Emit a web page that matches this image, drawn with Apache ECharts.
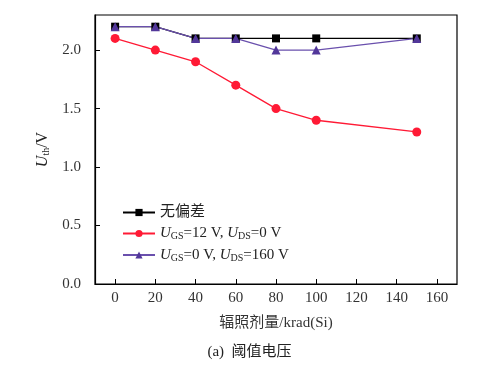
<!DOCTYPE html>
<html>
<head>
<meta charset="utf-8">
<script src="https://cdn.jsdelivr.net/npm/echarts@6/dist/echarts.min.js"></script>
<style>html,body{margin:0;padding:0;background:#fff;}#c{width:499px;height:368px;}</style>
</head>
<body>
<div id="c"></div>
<script>
var doses = [0, 20, 40, 60, 80, 100, 150];
var noBias = [2.2, 2.2, 2.1, 2.1, 2.1, 2.1, 2.1];
var gsBias = [2.1, 2.0, 1.9, 1.7, 1.5, 1.4, 1.3];
var dsBias = [2.2, 2.2, 2.1, 2.1, 2.0, 2.0, 2.1];
var xTicks = [0, 20, 40, 60, 80, 100, 120, 140, 160];
var yTicks = [0, 0.5, 1.0, 1.5, 2.0];
var seriesNames = ['无偏差', 'UGS=12 V, UDS=0 V', 'UGS=0 V, UDS=160 V'];

function pairs(vals) { return doses.map(function (d, i) { return [d, vals[i]]; }); }

var FONT = '"Liberation Serif", "Noto Sans CJK SC", serif';
var chart = echarts.init(document.getElementById('c'));
var richLeg = {
  n: { fontFamily: FONT, fontSize: 15, color: '#222' },
  i: { fontFamily: FONT, fontSize: 15, fontStyle: 'italic', color: '#222' },
  s: { fontFamily: FONT, fontSize: 10, color: '#222', verticalAlign: 'bottom', padding: [6, 0, 0, 0] }
};
chart.setOption({
  animation: false,
  backgroundColor: '#fff',
  grid: { left: 95, right: 42, top: 15, bottom: 84, show: true, borderColor: '#000', borderWidth: 1.2 },
  legend: {
    orient: 'vertical', left: 117, top: 200, itemWidth: 32, itemHeight: 9, itemGap: 6,
    data: seriesNames,
    formatter: function (name) {
      if (name === seriesNames[0]) return '{n|无偏差}';
      if (name === seriesNames[1]) return '{i|U}{s|GS}{n|=12 V, }{i|U}{s|DS}{n|=0 V}';
      return '{i|U}{s|GS}{n|=0 V, }{i|U}{s|DS}{n|=160 V}';
    },
    textStyle: { rich: richLeg, fontFamily: FONT, fontSize: 15 }
  },
  xAxis: {
    type: 'value', min: -10, max: 170,
    name: '辐照剂量/krad(Si)', nameLocation: 'middle', nameGap: 32,
    nameTextStyle: { fontFamily: FONT, fontSize: 15, color: '#333' },
    axisLine: { onZero: false, lineStyle: { color: '#000', width: 1.2 } },
    axisTick: { inside: true, length: 5, customValues: xTicks, lineStyle: { color: '#000' } },
    axisLabel: { customValues: xTicks, margin: 7, fontFamily: FONT, fontSize: 15, color: '#333' },
    splitLine: { show: false }
  },
  yAxis: {
    type: 'value', min: 0, max: 2.3,
    name: '{i|U}{s|th}{n|/V}', nameLocation: 'middle', nameGap: 44, nameRotate: 90,
    nameTextStyle: { rich: {
      n: { fontFamily: FONT, fontSize: 16, color: '#222' },
      i: { fontFamily: FONT, fontSize: 16, fontStyle: 'italic', color: '#222' },
      s: { fontFamily: FONT, fontSize: 10, color: '#222', verticalAlign: 'bottom', padding: [6, 0, 0, 0] }
    } },
    axisLine: { onZero: false, lineStyle: { color: '#000', width: 1.2 } },
    axisTick: { inside: true, length: 5, customValues: yTicks, lineStyle: { color: '#000' } },
    axisLabel: { customValues: yTicks, margin: 14, fontFamily: FONT, fontSize: 15, color: '#333',
      formatter: function (v) { return v.toFixed(1); } },
    splitLine: { show: false }
  },
  series: [
    { name: seriesNames[0], type: 'line', data: pairs(noBias), symbol: 'rect', symbolSize: 8,
      itemStyle: { color: '#000' }, lineStyle: { color: '#000', width: 1.3 } },
    { name: seriesNames[1], type: 'line', data: pairs(gsBias), symbol: 'circle', symbolSize: 9,
      itemStyle: { color: '#ff1a35' }, lineStyle: { color: '#ff1a35', width: 1.3 } },
    { name: seriesNames[2], type: 'line', data: pairs(dsBias), symbol: 'triangle', symbolSize: 9,
      itemStyle: { color: '#52379a' }, lineStyle: { color: '#6a50ad', width: 1.3 } }
  ],
  graphic: [{
    type: 'text', left: 'center', top: 345,
    style: { text: '(a)  阈值电压', font: '15px ' + FONT, fill: '#222' }
  }]
});
</script>
</body>
</html>
